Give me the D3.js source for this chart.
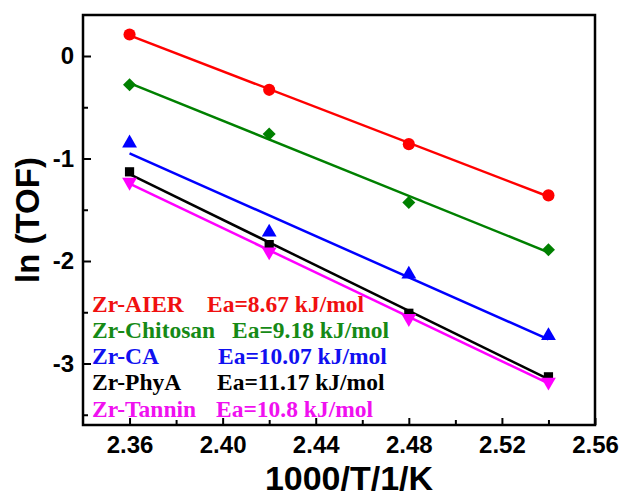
<!DOCTYPE html>
<html>
<head>
<meta charset="utf-8">
<script src="https://cdn.jsdelivr.net/npm/d3@7"></script>
<style>
  body { margin: 0; background: #fff; }
  svg { display: block; }
</style>
</head>
<body>
<div id="chart"></div>
<script>
// Arrhenius plot, ln(TOF) vs 1000/T

const xValues = [2.36, 2.42, 2.48, 2.54];

const seriesNames = ["Zr-AIER", "Zr-Chitosan", "Zr-CA", "Zr-PhyA", "Zr-Tannin"];
const eaLabels = ["Ea=8.67 kJ/mol", "Ea=9.18 kJ/mol", "Ea=10.07 kJ/mol", "Ea=11.17 kJ/mol", "Ea=10.8 kJ/mol"];

const aierValues = [0.21, -0.33, -0.86, -1.36];
const chitosanValues = [-0.28, -0.76, -1.43, -1.89];
const caValues = [-0.85, -1.72, -2.13, -2.73];
const phyaValues = [-1.13, -1.84, -2.51, -3.13];
const tanninValues = [-1.23, -1.91, -2.56, -3.18];

const xMajorTicks = [2.36, 2.40, 2.44, 2.48, 2.52, 2.56];
const xMinorTicks = [2.38, 2.42, 2.46, 2.50, 2.54];
const yMajorTicks = [0, -1, -2, -3];
const yMinorTicks = [-0.5, -1.5, -2.5, -3.5];

const width = 624;
const height = 498;
const margin = { top: 15, right: 29, bottom: 73, left: 83 };

const colors = ["#ff0000", "#008000", "#0000ff", "#000000", "#ff00ff"];
const legendColors = ["#f01010", "#168a16", "#1010f0", "#000000", "#f010f0"];
const symbols = ["circle", "diamond", "triangle", "square", "triangleDown"];
const eaOffsets = [207, 232, 218, 217, 216]; // x of the Ea text in each legend row

const allValues = [aierValues, chitosanValues, caValues, phyaValues, tanninValues];

const svg = d3.select("#chart")
    .append("svg")
    .attr("width", width)
    .attr("height", height);

const x = d3.scaleLinear()
    .domain([2.34, 2.56])
    .range([margin.left, width - margin.right]);

const y = d3.scaleLinear()
    .domain([-3.6, 0.4])
    .range([height - margin.bottom, margin.top]);

// least squares line for each series
function fit(xs, ys) {
    const mx = d3.mean(xs), my = d3.mean(ys);
    let num = 0, den = 0;
    xs.forEach((xi, i) => {
        num += (xi - mx) * (ys[i] - my);
        den += (xi - mx) * (xi - mx);
    });
    const slope = num / den;
    return xi => my + slope * (xi - mx);
}

const series = seriesNames.map((name, i) => ({
    name: name,
    ea: eaLabels[i],
    color: colors[i],
    symbol: symbols[i],
    points: xValues.map((xv, j) => ({ x: xv, y: allValues[i][j] })),
    line: fit(xValues, allValues[i])
}));

// Axes with inward ticks
const axisFont = "'Liberation Sans', Arial, sans-serif";

svg.append("g")
    .attr("transform", `translate(0,${height - margin.bottom})`)
    .call(d3.axisBottom(x).tickValues(xMajorTicks).tickFormat(d3.format(".2f")).tickSize(-7).tickPadding(11));

svg.append("g")
    .attr("transform", `translate(0,${height - margin.bottom})`)
    .call(d3.axisBottom(x).tickValues(xMinorTicks).tickFormat("").tickSize(-5));

svg.append("g")
    .attr("transform", `translate(${margin.left},0)`)
    .call(d3.axisLeft(y).tickValues(yMajorTicks).tickFormat(d => String(d)).tickSize(-8).tickPadding(9));

svg.append("g")
    .attr("transform", `translate(${margin.left},0)`)
    .call(d3.axisLeft(y).tickValues(yMinorTicks).tickFormat("").tickSize(-5));

svg.selectAll(".domain").remove();
svg.selectAll(".tick line").attr("stroke", "#000").attr("stroke-width", 2);
svg.selectAll(".tick text")
    .attr("fill", "#000")
    .style("font-family", axisFont)
    .style("font-weight", "bold")
    .style("font-size", "24px");

// Frame
svg.append("rect")
    .attr("x", margin.left)
    .attr("y", margin.top)
    .attr("width", width - margin.left - margin.right)
    .attr("height", height - margin.top - margin.bottom)
    .attr("fill", "none")
    .attr("stroke", "#000")
    .attr("stroke-width", 2.5);

// Fit lines
svg.selectAll(".fit")
    .data(series)
    .enter()
    .append("line")
    .attr("class", "fit")
    .attr("x1", d => x(xValues[0]))
    .attr("y1", d => y(d.line(xValues[0])))
    .attr("x2", d => x(xValues[xValues.length - 1]))
    .attr("y2", d => y(d.line(xValues[xValues.length - 1])))
    .attr("stroke", d => d.color)
    .attr("stroke-width", 2.5);

// Markers
const symbolTypes = {
    circle: d3.symbolCircle,
    diamond: d3.symbolSquare,
    triangle: d3.symbolTriangle,
    square: d3.symbolSquare,
    triangleDown: d3.symbolTriangle
};
const symbolRotate = { diamond: 45, triangleDown: 180 };
const symbolSize = { circle: 115, diamond: 85, triangle: 95, square: 85, triangleDown: 95 };

series.forEach(s => {
    svg.selectAll(null)
        .data(s.points)
        .enter()
        .append("path")
        .attr("d", d3.symbol().type(symbolTypes[s.symbol]).size(symbolSize[s.symbol]))
        .attr("transform", d => `translate(${x(d.x)},${y(d.y)}) rotate(${symbolRotate[s.symbol] || 0})`)
        .attr("fill", s.color);
});

// Legend text
const legendFont = "'Liberation Serif', 'Times New Roman', serif";
const legend = svg.selectAll(".legend")
    .data(series)
    .enter()
    .append("text")
    .attr("class", "legend")
    .attr("y", (d, i) => 311.5 + i * 26.3)
    .style("font-family", legendFont)
    .style("font-weight", "bold")
    .style("font-size", "23.5px")
    .attr("fill", (d, i) => legendColors[i]);

legend.append("tspan")
    .attr("x", 92)
    .text(d => d.name);

legend.append("tspan")
    .attr("x", (d, i) => eaOffsets[i])
    .text(d => d.ea);

// Axis titles
svg.append("text")
    .attr("x", 349)
    .attr("y", 490)
    .attr("text-anchor", "middle")
    .style("font-family", axisFont)
    .style("font-weight", "bold")
    .style("font-size", "34px")
    .text("1000/T/1/K");

svg.append("text")
    .attr("transform", `translate(39,${(margin.top + height - margin.bottom) / 2}) rotate(-90)`)
    .attr("text-anchor", "middle")
    .style("font-family", axisFont)
    .style("font-weight", "bold")
    .style("font-size", "33px")
    .text("ln (TOF)");
</script>
</body>
</html>
